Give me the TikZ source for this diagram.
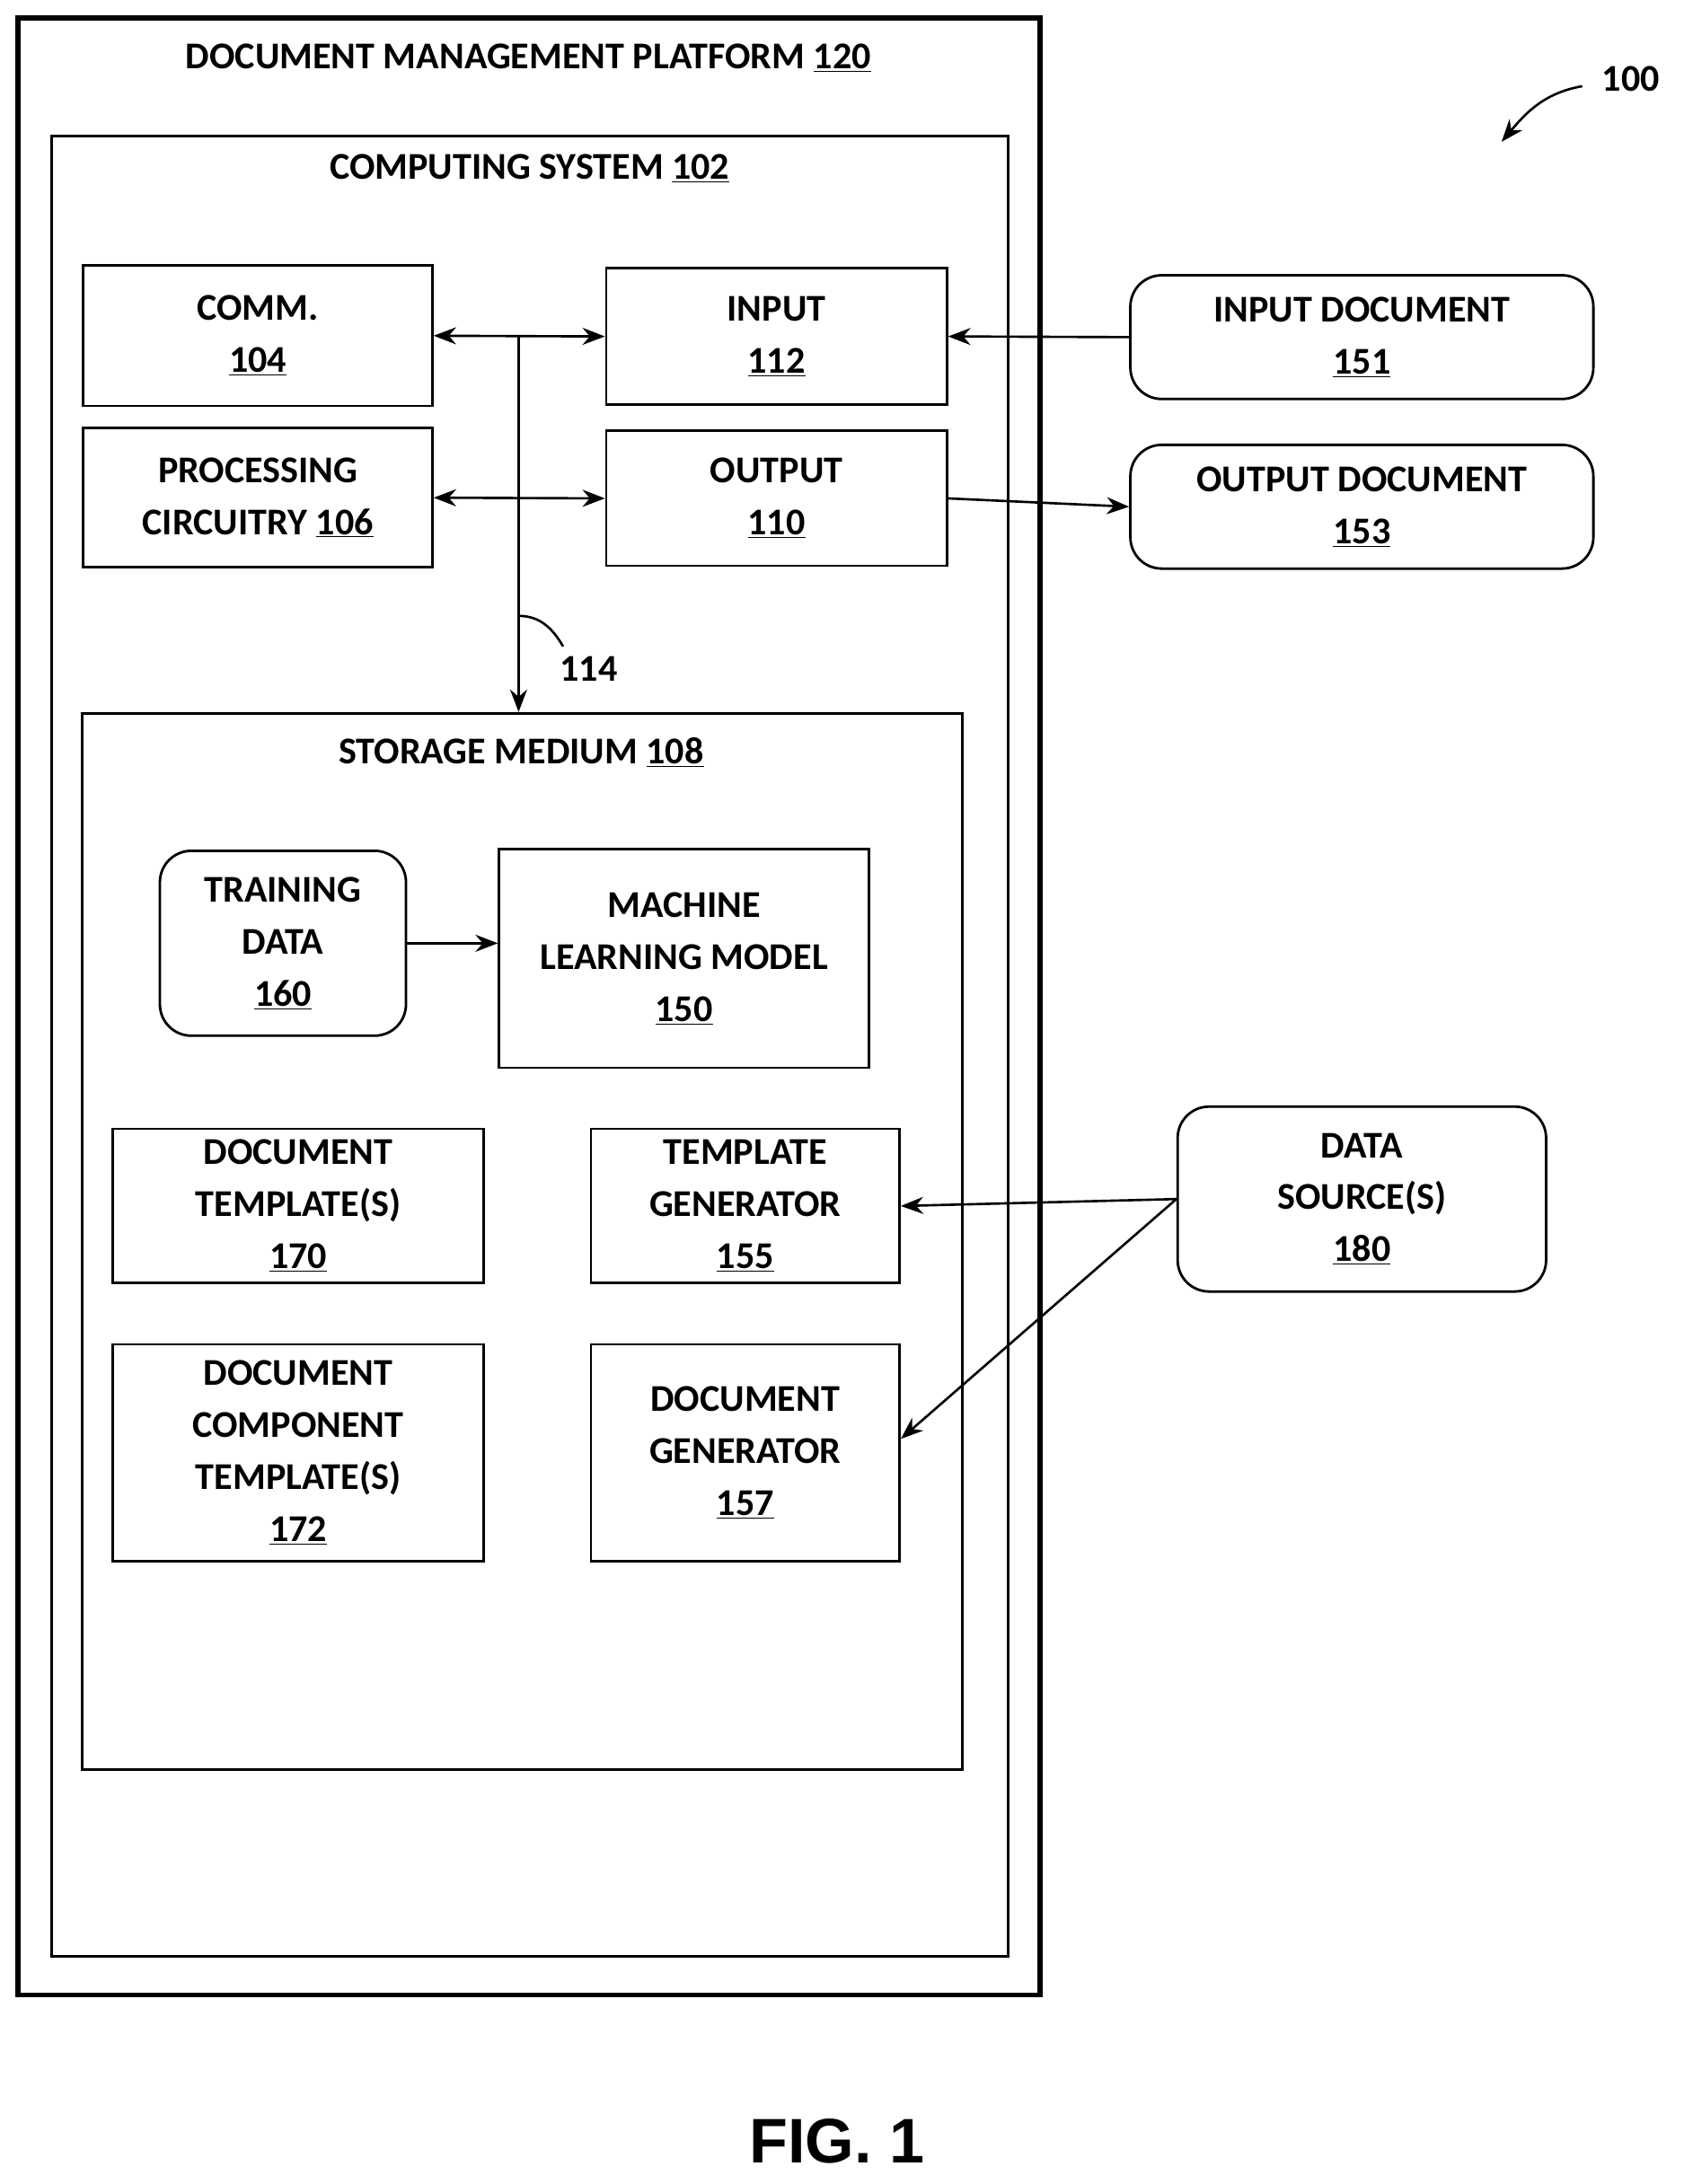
\documentclass[tikz,border=0pt]{standalone}
\usepackage{fontspec}
\setmainfont{Carlito}
\newfontfamily\figfont{Liberation Sans}
\usetikzlibrary{arrows.meta}
\newcommand{\px}{0.031cm}
\tikzset{
  box/.style={draw, line width=1.6pt, inner sep=0pt, align=center,
    font=\fontsize{24}{33}\selectfont\bfseries},
  rbox/.style={box, rounded corners=0.7cm},
  lbl/.style={font=\fontsize{24}{33}\selectfont\bfseries},
}
\begin{document}
\begin{tikzpicture}%
  [x=\px, y=-\px,
   >={Stealth[length=0.5cm, width=0.38cm]},
   line width=1.5pt,
  ]
\useasboundingbox (0,0) rectangle (1211,1571);
% containers
\node[box, line width=3pt, minimum width=735*\px, minimum height=1422*\px] (platform) at (380.5,724) {};
\node[lbl] at (380,42) {DOCUMENT MANAGEMENT PLATFORM \underline{120}};
\node[box, minimum width=688*\px, minimum height=1309*\px] (computing) at (381,752.5) {};
\node[lbl] at (381,121) {COMPUTING SYSTEM \underline{102}};
\node[box, minimum width=633*\px, minimum height=760*\px] (storage) at (375.5,893) {};
\node[lbl] at (375,541) {STORAGE MEDIUM \underline{108}};
% blocks
\node[box, minimum width=251*\px, minimum height=101*\px] (comm) at (185.5,241.5) {COMM.\\\underline{104}};
\node[box, minimum width=245*\px, minimum height=98*\px] (input) at (558.5,242) {INPUT\\\underline{112}};
\node[box, minimum width=251*\px, minimum height=100*\px] (proc) at (185.5,358) {PROCESSING\\CIRCUITRY \underline{106}};
\node[box, minimum width=245*\px, minimum height=97*\px] (output) at (558.5,358.5) {OUTPUT\\\underline{110}};
\node[rbox, minimum width=333*\px, minimum height=89*\px] (indoc) at (979.5,242.5) {INPUT DOCUMENT\\\underline{151}};
\node[rbox, minimum width=333*\px, minimum height=89*\px] (outdoc) at (979.5,364.5) {OUTPUT DOCUMENT\\\underline{153}};
\node[rbox, minimum width=177*\px, minimum height=133*\px] (train) at (203.5,678.5) {TRAINING\\DATA\\\underline{160}};
\node[box, minimum width=266*\px, minimum height=157*\px] (ml) at (492,689.5) {MACHINE\\LEARNING MODEL\\\underline{150}};
\node[box, minimum width=267*\px, minimum height=111*\px] (dtpl) at (214.5,867.5) {DOCUMENT\\TEMPLATE(S)\\\underline{170}};
\node[box, minimum width=222*\px, minimum height=111*\px] (tgen) at (536,867.5) {TEMPLATE\\GENERATOR\\\underline{155}};
\node[box, minimum width=267*\px, minimum height=156*\px] (dctpl) at (214.5,1045) {DOCUMENT\\COMPONENT\\TEMPLATE(S)\\\underline{172}};
\node[box, minimum width=222*\px, minimum height=156*\px] (dgen) at (536,1045) {DOCUMENT\\GENERATOR\\\underline{157}};
\node[rbox, minimum width=265*\px, minimum height=133*\px] (dsrc) at (979.5,862.5) {DATA\\SOURCE(S)\\\underline{180}};
% bus
\coordinate (bustop) at (373,241);
\draw[<->] (comm.east) -- (input.west);
\draw[<->] (proc.east) -- (output.west);
\draw[->] (bustop) -- (bustop |- storage.north);
\coordinate (tick) at (373,443);
\draw (tick) to[out=0, in=120] (405,465);
\node[lbl, anchor=west] (bus) at (398,481) {114};
% connectors
\draw[->] (indoc.west) -- (input.east);
\draw[->] (output.east) -- (outdoc.west);
\draw[->] (train.east) -- (ml.west |- train.east);
\draw[->] (dsrc.west) -- (tgen.east);
\draw[->] (dsrc.west) -- ([yshift=10*\px]dgen.east);
% reference
\node[lbl] (ref) at (1173,57) {100};
\draw[->] (1138,62) to[out=190, in=50] (1080,102);
\node[font=\figfont\fontsize{40}{44}\selectfont\bfseries] (fig) at (602,1540) {FIG. 1};
\end{tikzpicture}
\end{document}
